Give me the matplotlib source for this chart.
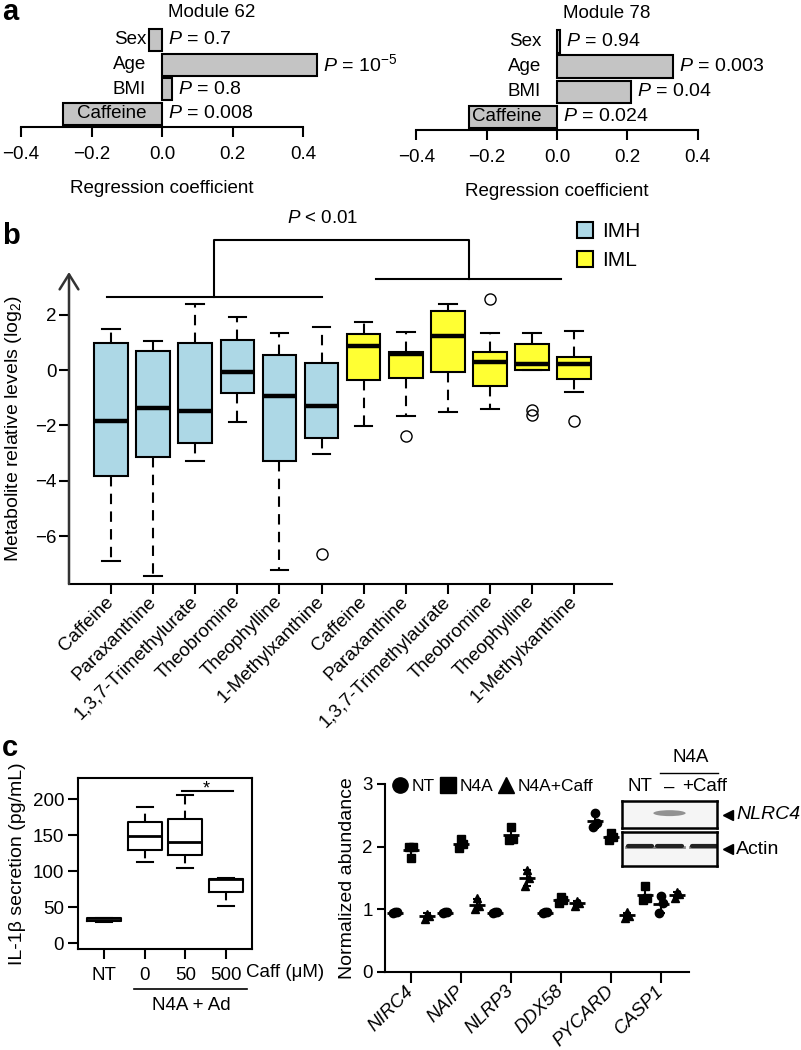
import numpy as np
import matplotlib.pyplot as plt
from matplotlib.patches import Patch, Ellipse
from matplotlib.lines import Line2D

plt.rcParams['font.family'] = ['Liberation Sans', 'DejaVu Sans']
plt.rcParams['mathtext.fontset'] = 'custom'
plt.rcParams['mathtext.rm'] = 'Liberation Sans'
plt.rcParams['mathtext.it'] = 'Liberation Sans:italic'
plt.rcParams['font.size'] = 13.5
plt.rcParams['axes.linewidth'] = 1.5
plt.rcParams['xtick.major.width'] = 1.5
plt.rcParams['ytick.major.width'] = 1.5

# ---------------- data ----------------
# panel a : regression coefficients
covariates = ['Sex', 'Age', 'BMI', 'Caffeine']
coef_m62 = [-0.037, 0.44, 0.028, -0.28]
pval_m62 = ['0.7', '10$^{-5}$', '0.8', '0.008']
coef_m78 = [0.008, 0.33, 0.21, -0.25]
pval_m78 = ['0.94', '0.003', '0.04', '0.024']

# panel b : metabolite boxplots (whislo, q1, med, q3, whishi)
imh_names = ['Caffeine', 'Paraxanthine', '1,3,7-Trimethylurate', 'Theobromine',
             'Theophylline', '1-Methylxanthine']
iml_names = ['Caffeine', 'Paraxanthine', '1,3,7-Trimethylaurate', 'Theobromine',
             'Theophylline', '1-Methylxanthine']
imh_stats = [(-6.91, -3.82, -1.84, 0.97, 1.48),
             (-7.43, -3.15, -1.37, 0.70, 1.03),
             (-3.30, -2.63, -1.48, 0.97, 2.40),
             (-1.88, -0.82, -0.07, 1.07, 1.90),
             (-7.21, -3.27, -0.93, 0.55, 1.33),
             (-3.05, -2.45, -1.30, 0.27, 1.54)]
imh_outliers = [[], [], [], [], [], [-6.63]]
iml_stats = [(-2.02, -0.36, 0.88, 1.30, 1.73),
             (-1.66, -0.28, 0.58, 0.64, 1.36),
             (-1.52, -0.08, 1.24, 2.12, 2.39),
             (-1.42, -0.57, 0.30, 0.64, 1.33),
             (0.00, 0.00, 0.22, 0.95, 1.33),
             (-0.79, -0.33, 0.21, 0.48, 1.42)]
iml_outliers = [[], [-2.39], [], [2.55], [-1.43, -1.64], [-1.84]]

# panel c left : IL-1b secretion
caff_groups = ['NT', '0', '50', '500']
il1b_stats = [(29.5, 30.0, 32.0, 34.6, 35.0),
              (113.2, 129.3, 149.2, 168.6, 189.4),
              (103.9, 122.4, 140.9, 173.2, 205.5),
              (52.2, 70.7, 89.0, 89.5, 90.1)]

# panel c right : normalized abundance (3 replicates per group)
genes = ['NIRC4', 'NAIP', 'NLRP3', 'DDX58', 'PYCARD', 'CASP1']
group_cond = ['NT', 'N4A', 'N4A+Caff', 'NT', 'N4A', 'N4A+Caff',
              'NT', 'N4A', 'N4A+Caff', 'NT', 'N4A', 'N4A+Caff',
              'NT', 'N4A', 'N4A+Caff', 'N4A', 'NT', 'N4A+Caff']
group_vals = [[0.94, 0.95, 0.95], [2.00, 2.00, 1.82], [0.84, 0.90, 0.93],
              [0.94, 0.95, 0.95], [1.98, 2.05, 2.12], [1.00, 1.05, 1.18],
              [0.94, 0.95, 0.95], [2.10, 2.12, 2.32], [1.38, 1.50, 1.62],
              [0.94, 0.95, 0.95], [1.10, 1.15, 1.20], [1.06, 1.10, 1.13],
              [2.32, 2.37, 2.54], [2.10, 2.15, 2.22], [0.86, 0.90, 0.95],
              [1.15, 1.18, 1.38], [0.94, 1.10, 1.22], [1.18, 1.24, 1.28]]
cond_marker = {'NT': 'o', 'N4A': 's', 'N4A+Caff': '^'}

W, H = 801, 1050
fig = plt.figure(figsize=(W / 100, H / 100), dpi=100)


def px_axes(l, t, r, b):
    return fig.add_axes([l / W, 1 - b / H, (r - l) / W, (b - t) / H])


# ---------------- panel a ----------------
def coef_panel(ax, coefs, pvals, title):
    ypos = np.arange(len(covariates))[::-1]
    ax.barh(ypos, coefs, height=0.89, color='#c4c4c4', edgecolor='black', lw=1.5,
            clip_on=False)
    for y, name, c, p in zip(ypos, covariates, coefs, pvals):
        ax.text(-0.045, y, name, ha='right', va='center')
        ax.text(max(c, 0) + 0.018, y, '$P$ = ' + p, ha='left', va='center',
                fontsize=14, clip_on=False)
    ax.text(0.14, 4.13, title, ha='center', va='center', clip_on=False)
    ax.set_xlim(-0.4, 0.4)
    ax.set_ylim(-0.53, 3.5)
    for s in ['left', 'top', 'right']:
        ax.spines[s].set_visible(False)
    ax.set_yticks([])
    ax.set_xticks([-0.4, -0.2, 0.0, 0.2, 0.4])
    ax.set_xticklabels(['\u22120.4', '\u22120.2', '0.0', '0.2', '0.4'])
    ax.tick_params(axis='x', length=7, pad=7)
    ax.set_xlabel('Regression coefficient', labelpad=12)
    ax.patch.set_alpha(0)


coef_panel(px_axes(21, 27.6, 303, 127), coef_m62, pval_m62, 'Module 62')
coef_panel(px_axes(416.4, 29, 697.6, 130), coef_m78, pval_m78, 'Module 78')

# ---------------- panel b ----------------
axb = px_axes(69, 272, 612, 584)
stats = []
for (lo, q1, med, q3, hi), fl in zip(imh_stats + iml_stats, imh_outliers + iml_outliers):
    stats.append(dict(whislo=lo, q1=q1, med=med, q3=q3, whishi=hi, fliers=fl))
pos_b = np.arange(1, len(stats) + 1)
bp = axb.bxp(stats, positions=pos_b, widths=0.8, capwidths=0.42, patch_artist=True,
             boxprops=dict(edgecolor='black', lw=1.5),
             medianprops=dict(color='black', lw=3.2),
             whiskerprops=dict(color='black', lw=1.5, ls=(0, (5, 3.5))),
             capprops=dict(color='black', lw=1.5),
             flierprops=dict(marker='o', mfc='none', mec='black', ms=8, mew=1))
for i, box in enumerate(bp['boxes']):
    box.set_facecolor('#add8e6' if i < len(imh_stats) else '#ffff33')
axb.set_xlim(0, 12.9)
axb.set_ylim(-7.73, 3.54)
axb.set_xticks(pos_b)
axb.set_xticklabels(imh_names + iml_names, rotation=45, ha='right', va='center',
                    rotation_mode='anchor')
axb.tick_params(axis='x', length=7, pad=4)
axb.set_yticks([2, 0, -2, -4, -6])
axb.tick_params(axis='y', length=7, pad=2)
for s in ['left', 'top', 'right']:
    axb.spines[s].set_visible(False)
axb.annotate('', xy=(0, 1), xycoords='axes fraction', xytext=(0, 0),
             textcoords='axes fraction',
             arrowprops=dict(arrowstyle='->,head_length=0.8,head_width=0.5',
                             lw=1.8, color='#333333', shrinkA=0, shrinkB=0))
axb.set_ylabel('Metabolite relative levels (log$_2$)', labelpad=8, fontsize=14)

# bracket with P value
imh_span = (0.9, 6.0)
iml_span = (7.3, 11.7)
imh_mid = np.mean(imh_span)
iml_mid = np.mean(iml_span)
kw = dict(color='black', lw=1.5, clip_on=False)
axb.plot(imh_span, [2.63, 2.63], **kw)
axb.plot(iml_span, [3.27, 3.27], **kw)
axb.plot([imh_mid, imh_mid, iml_mid, iml_mid], [2.63, 4.69, 4.69, 3.27], **kw)
axb.text(6.03, 5.47, '$P$ < 0.01', ha='center', va='center', clip_on=False)
axb.legend(handles=[Patch(facecolor='#add8e6', edgecolor='black', lw=1.5, label='IMH'),
                    Patch(facecolor='#ffff33', edgecolor='black', lw=1.5, label='IML')],
           loc='upper left', bbox_to_anchor=(0.935, 1.16), frameon=False, fontsize=15,
           handlelength=0.8, handleheight=0.8, handletextpad=0.4, labelspacing=0.45,
           borderpad=0, borderaxespad=0)

# ---------------- panel c left ----------------
axc = px_axes(78, 778, 252, 949)
stats_c = [dict(whislo=lo, q1=q1, med=med, q3=q3, whishi=hi, fliers=[])
           for lo, q1, med, q3, hi in il1b_stats]
pos_c = np.arange(1, len(stats_c) + 1)
axc.bxp(stats_c, positions=pos_c, widths=0.84, capwidths=0.4,
        boxprops=dict(color='black', lw=1.5),
        medianprops=dict(color='black', lw=2),
        whiskerprops=dict(color='black', lw=1.5, ls=(0, (4, 3))),
        capprops=dict(color='black', lw=1.5))
axc.set_xlim(0.35, 4.65)
axc.set_ylim(-8.3, 229.6)
axc.set_yticks([0, 50, 100, 150, 200])
axc.set_xticks(pos_c)
axc.set_xticklabels(caff_groups)
axc.tick_params(axis='x', length=7, pad=6)
axc.tick_params(axis='y', length=7, pad=3)
axc.set_ylabel('IL-1\u03b2 secretion (pg/mL)', labelpad=5, fontsize=14)
axc.plot([2.92, 4.17], [211, 211], color='black', lw=1.5, clip_on=False)
axc.text(3.53, 203, '*', ha='center', va='bottom', fontsize=13)
xt = axc.get_xaxis_transform()
axc.text(4.5, -0.14, 'Caff (\u03bcM)', transform=xt, ha='left', va='center')
axc.plot([1.74, 4.53], [-0.234, -0.234], transform=xt, color='black', lw=1.2, clip_on=False)
axc.text(3.15, -0.33, 'N4A + Ad', transform=xt, ha='center', va='center')

# ---------------- panel c right ----------------
axd = px_axes(385, 784, 689, 972)
jitter = [-0.045, 0.045, 0.0]
for i, (cond, vals) in enumerate(zip(group_cond, group_vals)):
    xc = i // 3 + 1 + (i % 3 - 1) * 0.32
    vals = np.array(vals)
    axd.plot(xc + np.array(jitter), vals, ls='none', marker=cond_marker[cond],
             color='black', ms=6, clip_on=False)
    axd.errorbar(xc, vals.mean(), yerr=vals.std(ddof=1), fmt='none', ecolor='black',
                 elinewidth=1.5, capsize=3, capthick=1.5)
    axd.plot(xc, vals.mean(), marker='_', ms=11, mew=2, color='black')
axd.set_xlim(0.48, 6.56)
axd.set_ylim(0, 3)
axd.set_yticks([0, 1, 2, 3])
axd.set_xticks(np.arange(1, len(genes) + 1))
axd.set_xticklabels(genes, rotation=45, ha='right', va='center', rotation_mode='anchor',
                    style='italic')
axd.tick_params(axis='x', length=8, pad=4)
axd.tick_params(axis='y', length=6, pad=3)
for s in ['top', 'right']:
    axd.spines[s].set_visible(False)
axd.set_ylabel('Normalized abundance', labelpad=4, fontsize=14)
axd.legend(handles=[Line2D([], [], ls='none', marker=cond_marker[c], color='black', ms=11)
                    for c in ['NT', 'N4A', 'N4A+Caff']],
           labels=['NT', 'N4A', 'N4A+Caff'], ncol=3, loc='center left',
           bbox_to_anchor=(0.025, 0.985), frameon=False, fontsize=12.5, handlelength=0.9,
           handletextpad=0.2, columnspacing=0.3, borderpad=0, borderaxespad=0)

# western blot inset
lanes = ['NT', '\u2013', '+Caff']
lane_x = [0.19, 0.5, 0.87]
blot_top = px_axes(622, 801, 717, 828)
blot_bot = px_axes(622, 832, 717, 866)
for bax in (blot_top, blot_bot):
    bax.set_xlim(0, 1)
    bax.set_ylim(0, 1)
    bax.set_xticks([])
    bax.set_yticks([])
    bax.set_facecolor('#f5f5f5')
    for s in bax.spines.values():
        s.set_linewidth(1.8)
blot_top.add_patch(Ellipse((0.5, 0.55), 0.34, 0.22, color='#7a7a7a', alpha=0.8, lw=0))
for lx in lane_x:
    blot_bot.plot([lx - 0.15, lx + 0.15], [0.55, 0.55], color='#8a8a8a', lw=2)
    blot_bot.plot([lx - 0.13, lx + 0.13], [0.6, 0.6], color='#222222', lw=3,
                  solid_capstyle='round')
for lx, lab in zip(lane_x, lanes):
    blot_top.text(lx, 1.52, lab, ha='center', va='center', transform=blot_top.transAxes)
blot_top.plot([0.4, 1.01], [2.04, 2.04], color='black', lw=1, clip_on=False)
blot_top.text(0.72, 2.62, 'N4A', ha='center', va='center')
for bax, lab, st in ((blot_top, 'NLRC4', 'italic'), (blot_bot, 'Actin', 'normal')):
    bax.plot(1.12, 0.5, marker='<', color='black', ms=7, clip_on=False)
    bax.text(1.2, 0.5, lab, ha='left', va='center', style=st, fontsize=14)

# panel letters
for letter, yb in (('a', 20), ('b', 244), ('c', 756)):
    fig.text(2 / W, 1 - yb / H, letter, fontsize=21, fontweight='bold', ha='left',
             va='baseline')

fig.savefig('out.png', dpi=100)
